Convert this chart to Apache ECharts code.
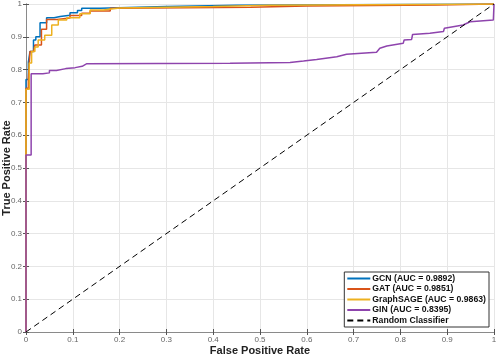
<!DOCTYPE html>
<html>
<head>
<meta charset="UTF-8">
<title>ROC</title>
<script src="https://cdn.jsdelivr.net/npm/echarts@6/dist/echarts.min.js"></script>
<style>
  body { margin: 0; background: #fff; }
  #chart { width: 498px; height: 355px; }
</style>
</head>
<body>
<div id="chart"></div>
<script type="text/javascript">
// curve points [fpr, tpr]
var gcn = [[0,0],[0,0.77],[0.005,0.77],[0.005,0.823],[0.0085,0.823],[0.0085,0.855],[0.016,0.855],[0.016,0.89],
  [0.021,0.89],[0.021,0.9],[0.03,0.9],[0.03,0.943],[0.044,0.943],[0.044,0.958],[0.06,0.958],[0.06,0.962],
  [0.073,0.962],[0.073,0.966],[0.094,0.966],[0.094,0.973],[0.11,0.973],[0.11,0.98],[0.119,0.98],[0.119,0.987],
  [0.158,0.987],[0.158,0.992],[0.3,0.992],[0.3,0.996],[0.45,0.996],[0.45,1],[1,1]];
var gat = [[0,0],[0,0.743],[0.005,0.743],[0.005,0.771],[0.0085,0.771],[0.0085,0.855],[0.016,0.855],[0.019,0.875],
  [0.033,0.875],[0.033,0.923],[0.044,0.923],[0.044,0.953],[0.066,0.953],[0.066,0.957],[0.094,0.957],[0.094,0.965],
  [0.119,0.965],[0.119,0.972],[0.137,0.972],[0.137,0.979],[0.18,0.979],[0.18,0.987],[0.2,0.987],[0.2,0.99],
  [0.48,0.99],[0.48,0.994],[0.6,0.994],[0.6,0.997],[0.88,0.997],[0.88,1],[1,1]];
var sage = [[0,0],[0,0.74],[0.007,0.74],[0.007,0.82],[0.012,0.82],[0.012,0.855],[0.019,0.855],[0.019,0.869],
  [0.026,0.869],[0.026,0.89],[0.04,0.89],[0.04,0.905],[0.055,0.905],[0.055,0.936],[0.069,0.936],[0.069,0.951],
  [0.087,0.951],[0.087,0.958],[0.115,0.958],[0.115,0.97],[0.137,0.97],[0.137,0.982],[0.165,0.982],[0.165,0.988],
  [0.2,0.988],[0.2,0.992],[0.4,0.992],[0.4,0.996],[0.52,0.996],[0.52,1],[1,1]];
var gin = [[0,0],[0,0.54],[0.011,0.54],[0.011,0.787],[0.036,0.787],[0.036,0.79],[0.05,0.79],[0.05,0.797],
  [0.065,0.797],[0.065,0.803],[0.085,0.803],[0.085,0.806],[0.105,0.806],[0.105,0.81],[0.12,0.81],[0.13,0.818],
  [0.436,0.819],[0.564,0.822],[0.564,0.826],[0.593,0.826],[0.621,0.831],[0.664,0.839],[0.685,0.847],
  [0.749,0.853],[0.756,0.865],[0.771,0.872],[0.806,0.88],[0.808,0.89],[0.824,0.892],[0.826,0.907],[0.863,0.911],
  [0.892,0.916],[0.894,0.926],[0.934,0.936],[0.949,0.946],[0.9986,0.951],[1,0.955],[1,1]];
var diag = [[0,0],[1,1]];
var names = ['GCN (AUC = 0.9892)', 'GAT (AUC = 0.9851)', 'GraphSAGE (AUC = 0.9863)', 'GIN (AUC = 0.8395)', 'Random Classifier'];
var colors = ['#0072BD', '#D95319', '#EDB120', '#8E44AD', '#000000'];

var myChart = echarts.init(document.getElementById('chart'));
var font = 'Liberation Sans';
var frame = {show: true, lineStyle: {color: '#8a8a8a', width: 1}};
var tick = {show: true, inside: true, length: 3, lineStyle: {color: '#555'}};

function curve(i, d, w, dash) {
  return {
    name: names[i], type: 'line', data: d, showSymbol: false, symbol: 'none',
    xAxisIndex: 0, yAxisIndex: 0, animation: false,
    lineStyle: {color: colors[i], width: w, type: dash ? [6, 4] : 'solid'},
    itemStyle: {color: colors[i]}
  };
}

var option = {
  backgroundColor: '#fff',
  textStyle: {fontFamily: font},
  grid: {left: 26, right: 4, top: 4, bottom: 23, containLabel: false, outerBoundsMode: 'none'},
  legend: {
    orient: 'vertical', right: 9, bottom: 28,
    backgroundColor: '#fff', borderColor: '#333', borderWidth: 1,
    padding: [2, 3, 2, 2], itemGap: 1.5, itemWidth: 23, itemHeight: 9,
    itemStyle: {opacity: 0},
    textStyle: {fontFamily: font, fontSize: 8.7, fontWeight: 'bold', color: '#111', padding: [0, 0, 0, -3]},
    data: names
  },
  xAxis: [{
    type: 'value', min: 0, max: 1, interval: 0.1,
    name: 'False Positive Rate', nameLocation: 'middle', nameGap: 13, nameMoveOverlap: false,
    nameTextStyle: {fontFamily: font, fontSize: 11, fontWeight: 'bold', color: '#222'},
    axisLine: frame, axisTick: tick,
    axisLabel: {fontSize: 8, color: '#666', margin: 4, formatter: function (v) { return String(+v.toFixed(1)); }},
    splitLine: {show: true, lineStyle: {color: '#e6e6e6'}}
  }, {
    type: 'value', position: 'top', min: 0, max: 1, interval: 0.1,
    axisLine: frame, axisTick: tick, axisLabel: {show: false}, splitLine: {show: false}
  }],
  yAxis: [{
    type: 'value', min: 0, max: 1, interval: 0.1,
    name: 'True Positive Rate', nameLocation: 'middle', nameGap: 14, nameMoveOverlap: false,
    nameTextStyle: {fontFamily: font, fontSize: 11, fontWeight: 'bold', color: '#222'},
    axisLine: frame, axisTick: tick,
    axisLabel: {fontSize: 8, color: '#666', margin: 4, formatter: function (v) { return String(+v.toFixed(1)); }},
    splitLine: {show: true, lineStyle: {color: '#e6e6e6'}}
  }, {
    type: 'value', position: 'right', min: 0, max: 1, interval: 0.1,
    axisLine: frame, axisTick: tick, axisLabel: {show: false}, splitLine: {show: false}
  }],
  series: [
    curve(0, gcn, 1.5),
    curve(1, gat, 1.5),
    curve(2, sage, 1.5),
    curve(3, gin, 1.5),
    curve(4, diag, 1, true)
  ]
};
myChart.setOption(option);
</script>
</body>
</html>
